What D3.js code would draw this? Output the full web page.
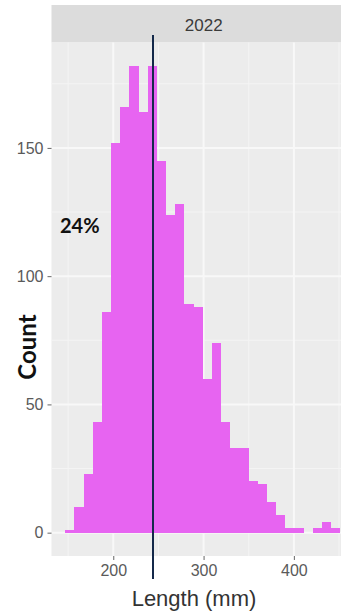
<!DOCTYPE html>
<html>
<head>
<meta charset="utf-8">
<script src="https://cdn.jsdelivr.net/npm/d3@7"></script>
<style>
  html, body { margin: 0; padding: 0; background: #ffffff; }
  svg { display: block; }
</style>
</head>
<body>
<div id="chart"></div>
<script>
// ---- data ----
const panelLabel = "2022";
const binStart = 146.8;          // left edge of first bin (mm)
const binWidth = 10.15;          // bin width (mm)
const counts = [1, 10, 23, 43, 86, 152, 166, 182, 164, 182,
                145, 124, 128, 89, 88, 60, 74, 43, 33, 33,
                20, 19, 12, 7, 2, 2, 0, 2, 4, 2];
const xTicks = [200, 300, 400];
const yTicks = [0, 50, 100, 150];
const refLine = 244;
const pctLabel = "24%";
const xTitle = "Length (mm)";
const yTitle = "Count";

// ---- layout ----
const W = 341, H = 611;
const panel = { left: 51.5, right: 356, top: 42.5, bottom: 556 };
const strip = { top: 5, bottom: 42.5 };

const bins = counts.map((c, i) => ({ x0: binStart + i * binWidth, x1: binStart + (i + 1) * binWidth, n: c }));

const x = d3.scaleLinear().domain([131.6, 468.8]).range([panel.left, panel.right]);
const y = d3.scaleLinear().domain([-9.1, 191.1]).range([panel.bottom, panel.top]);

const svg = d3.select("#chart").append("svg").attr("width", W).attr("height", H);

// strip
svg.append("rect").attr("x", panel.left).attr("y", strip.top)
  .attr("width", W - panel.left).attr("height", strip.bottom - strip.top)
  .attr("fill", "#dcdcdc");
svg.append("text").attr("x", (panel.left + panel.right) / 2).attr("y", 31)
  .attr("text-anchor", "middle").attr("font-family", "Liberation Sans, Arial, sans-serif")
  .attr("font-size", 17).attr("fill", "#3a3a3a").text(panelLabel);

// panel background
svg.append("rect").attr("x", panel.left).attr("y", panel.top)
  .attr("width", W - panel.left).attr("height", panel.bottom - panel.top)
  .attr("fill", "#ececec");

const g = svg.append("g");
// minor grid
const xMinor = [150, 250, 350, 450];
const yMinor = [25, 75, 125, 175];
g.selectAll("line.xmin").data(xMinor).enter().append("line")
  .attr("x1", d => x(d)).attr("x2", d => x(d)).attr("y1", panel.top).attr("y2", panel.bottom)
  .attr("stroke", "#f4f4f4").attr("stroke-width", 1);
g.selectAll("line.ymin").data(yMinor).enter().append("line")
  .attr("x1", panel.left).attr("x2", W).attr("y1", d => y(d)).attr("y2", d => y(d))
  .attr("stroke", "#f4f4f4").attr("stroke-width", 1);
// major grid
g.selectAll("line.xmaj").data(xTicks).enter().append("line")
  .attr("x1", d => x(d)).attr("x2", d => x(d)).attr("y1", panel.top).attr("y2", panel.bottom)
  .attr("stroke", "#f8f8f8").attr("stroke-width", 2);
g.selectAll("line.ymaj").data(yTicks).enter().append("line")
  .attr("x1", panel.left).attr("x2", W).attr("y1", d => y(d)).attr("y2", d => y(d))
  .attr("stroke", "#f8f8f8").attr("stroke-width", 2);

// bars
g.selectAll("rect.bar").data(bins).enter().append("rect")
  .attr("x", d => x(d.x0)).attr("width", d => x(d.x1) - x(d.x0))
  .attr("y", d => y(d.n)).attr("height", d => y(0) - y(d.n))
  .attr("fill", "#e764f1").attr("shape-rendering", "crispEdges");

// axes
const xAxis = d3.axisBottom(x).tickValues(xTicks).tickSize(4).tickPadding(5);
const yAxis = d3.axisLeft(y).tickValues(yTicks).tickSize(4).tickPadding(4);
const ga = svg.append("g").attr("transform", `translate(0,${panel.bottom})`).call(xAxis);
const gy = svg.append("g").attr("transform", `translate(${panel.left},0)`).call(yAxis);
[ga, gy].forEach(a => {
  a.select(".domain").remove();
  a.selectAll(".tick line").attr("stroke", "#666").attr("stroke-width", 1);
  a.selectAll(".tick text").attr("font-family", "Liberation Sans, Arial, sans-serif")
    .attr("font-size", 16).attr("fill", "#5a5a5a");
});

// reference line
svg.append("line").attr("x1", x(refLine)).attr("x2", x(refLine))
  .attr("y1", 35).attr("y2", 579).attr("stroke", "#14294a").attr("stroke-width", 2);

// annotations
svg.append("text").attr("x", 60).attr("y", 233)
  .attr("font-family", "Lato, 'Open Sans', sans-serif").attr("font-weight", "bold")
  .attr("font-size", 20).attr("fill", "#111").text(pctLabel);

svg.append("text").attr("transform", "translate(36,347) rotate(-90)")
  .attr("text-anchor", "middle")
  .attr("font-family", "Lato, 'Open Sans', sans-serif").attr("font-weight", "bold")
  .attr("font-size", 24).attr("fill", "#111").text(yTitle);

svg.append("text").attr("x", 194).attr("y", 606).attr("text-anchor", "middle")
  .attr("font-family", "Liberation Sans, Arial, sans-serif")
  .attr("font-size", 22).attr("fill", "#333").text(xTitle);
</script>
</body>
</html>
